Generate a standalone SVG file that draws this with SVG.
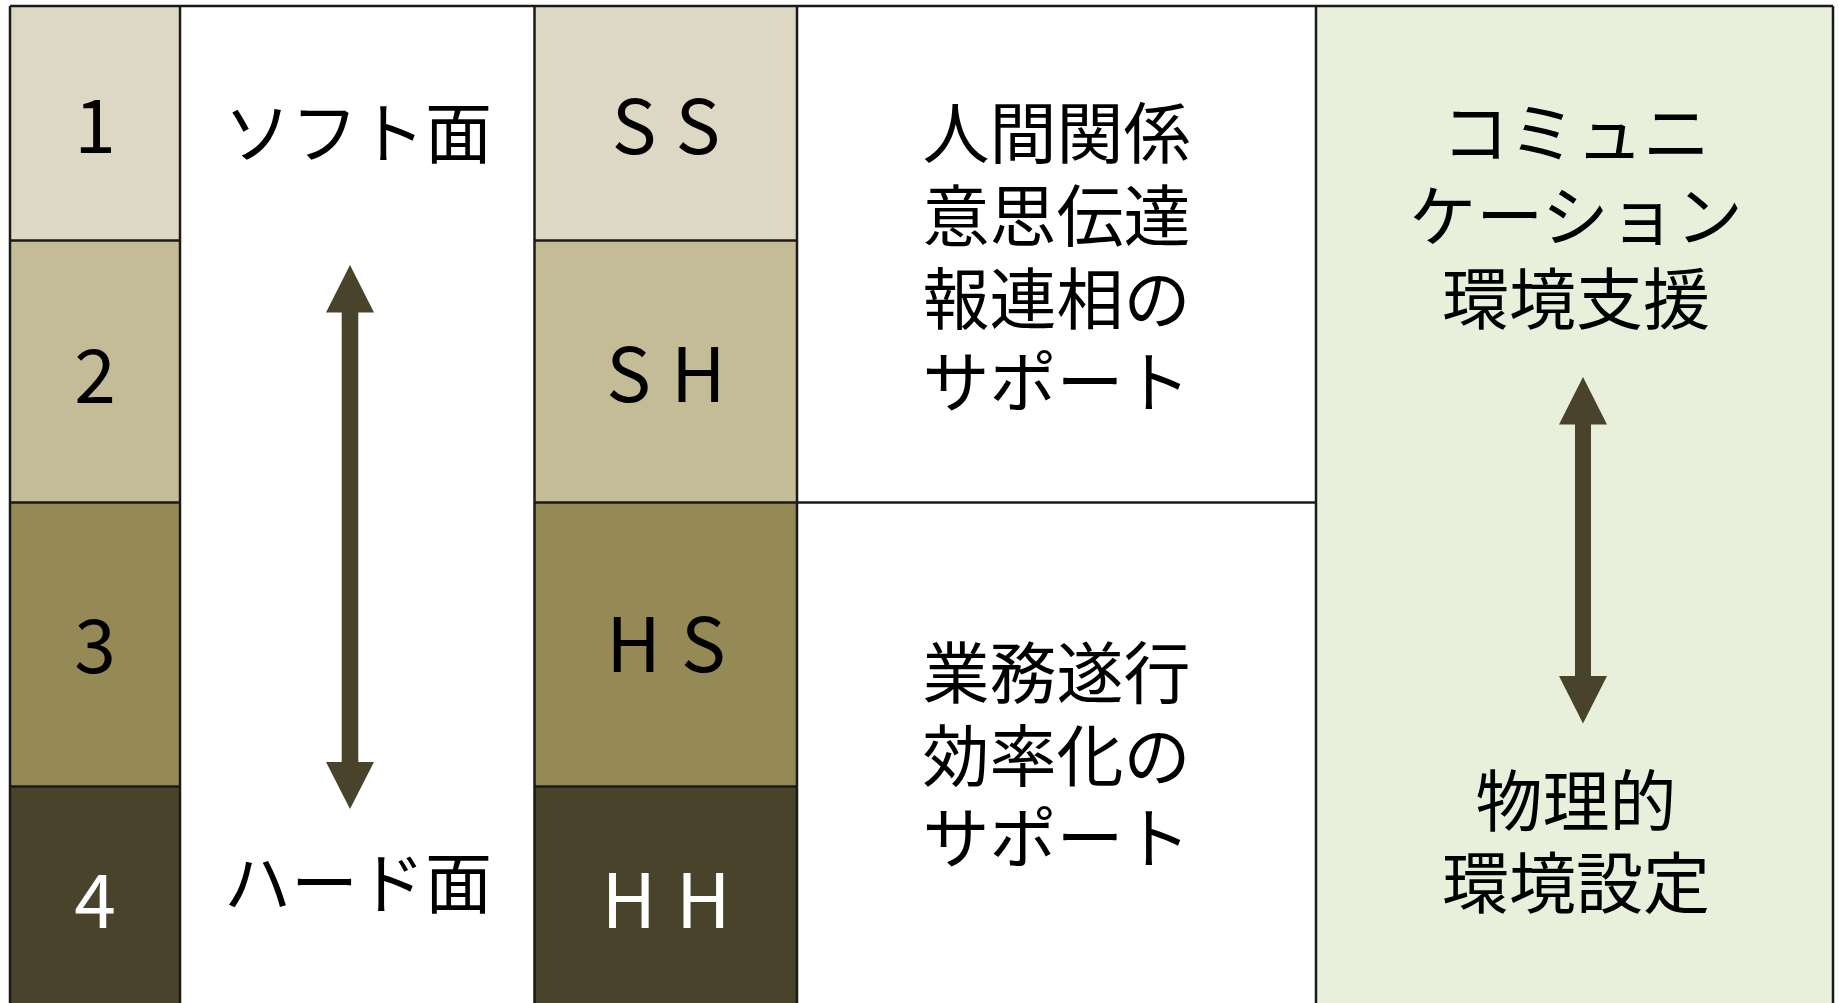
<svg xmlns="http://www.w3.org/2000/svg" width="1839" height="1003" viewBox="0 0 1839 1003">
<defs>
<style>
.t{font-family:"Noto Sans CJK JP","Noto Sans",sans-serif;font-size:67px;fill:#000;text-anchor:middle}
.n{font-family:"Noto Sans CJK JP","Noto Sans",sans-serif;font-size:75px;fill:#000;text-anchor:middle}
.l{font-family:"Noto Sans CJK JP","Noto Sans",sans-serif;font-size:75px;fill:#000;text-anchor:middle;letter-spacing:20px}
.w{fill:#fff}
.b{stroke:#1a1a1a;stroke-width:2.5;fill:none}
.arw{fill:#4a432b}
</style>
</defs>
<rect width="1839" height="1003" fill="#fff"/>
<g id="col1">
<g id="n1"><rect x="10" y="6" width="170" height="234.5" fill="#ddd8c3"/><text class="n" x="95" y="153">1</text></g>
<g id="n2"><rect x="10" y="240.5" width="170" height="262" fill="#c4bc97"/><text class="n" x="95" y="403">2</text></g>
<g id="n3"><rect x="10" y="502.5" width="170" height="284" fill="#958a55"/><text class="n" x="95" y="673">3</text></g>
<g id="n4"><rect x="10" y="786.5" width="170" height="220" fill="#4a432b"/><text class="n w" x="95" y="928">4</text></g>
</g>
<g id="col3">
<g id="ss"><rect x="534.5" y="6" width="262.5" height="234.5" fill="#ddd8c3"/><text class="l" x="676" y="154">SS</text></g>
<g id="sh"><rect x="534.5" y="240.5" width="262.5" height="262" fill="#c4bc97"/><text class="l" x="676" y="402">SH</text></g>
<g id="hs"><rect x="534.5" y="502.5" width="262.5" height="284" fill="#958a55"/><text class="l" x="676" y="672">HS</text></g>
<g id="hh"><rect x="534.5" y="786.5" width="262.5" height="220" fill="#4a432b"/><text class="l w" x="676" y="928">HH</text></g>
</g>
<g id="col5"><rect x="1316" y="6" width="517" height="1000" fill="#e8f0dc"/></g>
<g id="soft"><text class="t" x="358" y="158">ソフト面</text></g>
<g id="hard"><text class="t" x="358" y="908">ハード面</text></g>
<g id="human"><text class="t" x="1056.5" y="158">人間関係</text><text class="t" x="1056.5" y="241">意思伝達</text><text class="t" x="1056.5" y="324">報連相の</text><text class="t" x="1056.5" y="407">サポート</text></g>
<g id="work"><text class="t" x="1056.5" y="698">業務遂行</text><text class="t" x="1056.5" y="781">効率化の</text><text class="t" x="1056.5" y="863">サポート</text></g>
<g id="comm"><text class="t" x="1576" y="158">コミュニ</text><text class="t" x="1576" y="241">ケーション</text><text class="t" x="1576" y="324">環境支援</text></g>
<g id="phys"><text class="t" x="1576" y="826">物理的</text><text class="t" x="1576" y="908">環境設定</text></g>
<g id="grid">
<line class="b" x1="10" y1="6" x2="1833" y2="6"/>
<line class="b" x1="10" y1="6" x2="10" y2="1003"/>
<line class="b" x1="180" y1="6" x2="180" y2="1003"/>
<line class="b" x1="534.5" y1="6" x2="534.5" y2="1003"/>
<line class="b" x1="797" y1="6" x2="797" y2="1003"/>
<line class="b" x1="1316" y1="6" x2="1316" y2="1003"/>
<line class="b" x1="1833" y1="6" x2="1833" y2="1003"/>
<line class="b" x1="10" y1="240.5" x2="180" y2="240.5"/>
<line class="b" x1="10" y1="502.5" x2="180" y2="502.5"/>
<line class="b" x1="10" y1="786.5" x2="180" y2="786.5"/>
<line class="b" x1="534.5" y1="240.5" x2="797" y2="240.5"/>
<line class="b" x1="534.5" y1="502.5" x2="1316" y2="502.5"/>
<line class="b" x1="534.5" y1="786.5" x2="797" y2="786.5"/>
</g>
<g id="connectors">
<polygon class="arw" points="350,265 374,312.5 358.3,312.5 358.3,762 374,762 350,809 326,762 341.7,762 341.7,312.5 326,312.5"/>
<polygon class="arw" points="1583,377 1607,424.5 1591,424.5 1591,676 1607,676 1583,723.5 1559,676 1575,676 1575,424.5 1559,424.5"/>
</g>
</svg>
